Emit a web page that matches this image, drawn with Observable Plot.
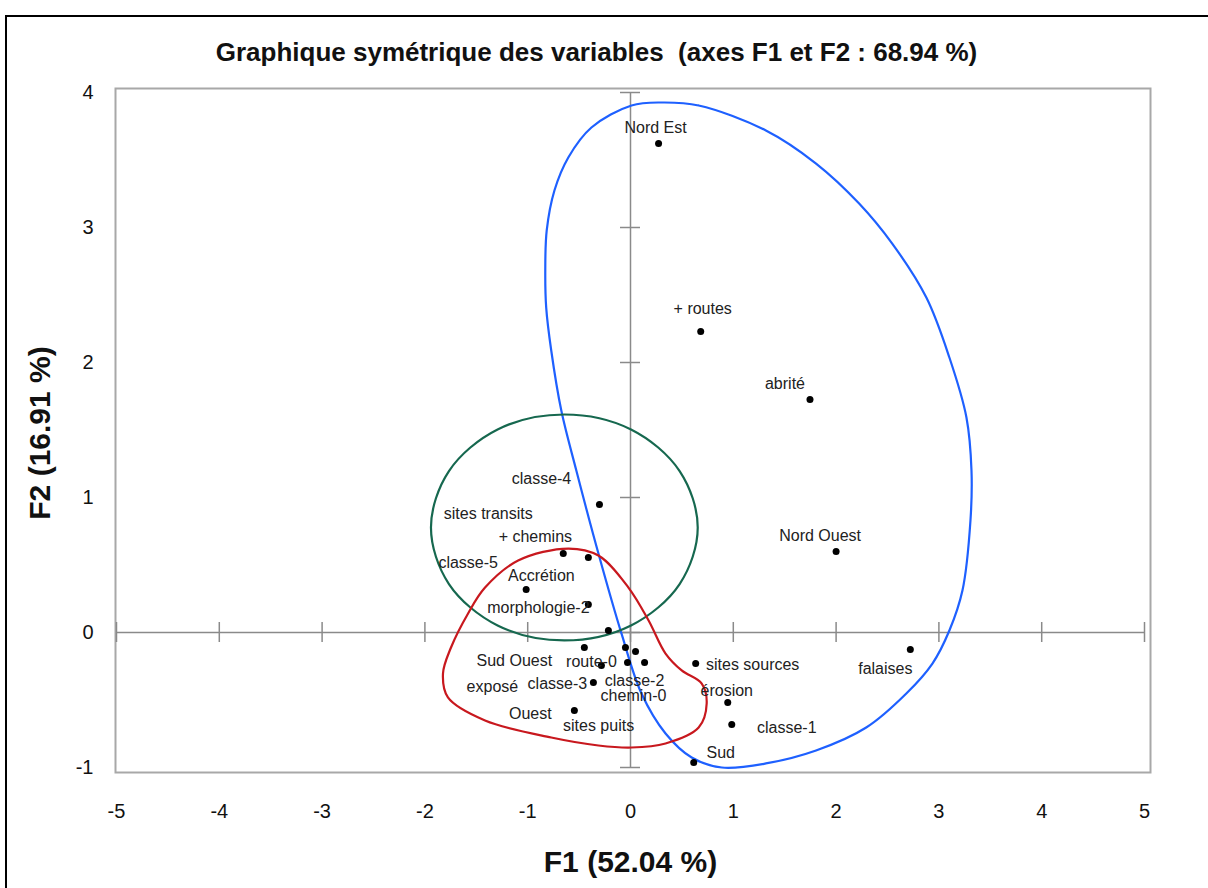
<!DOCTYPE html>
<html><head><meta charset="utf-8">
<script src="https://cdn.jsdelivr.net/npm/d3@7"></script>
<script src="https://cdn.jsdelivr.net/npm/@observablehq/plot@0.6"></script>
<style>
body{margin:0;background:#fff;font-family:"Liberation Sans",Arial,sans-serif;}
#page{position:relative;width:1208px;height:888px;overflow:hidden;background:#fff;}
#border{position:absolute;left:5px;top:15px;width:1300px;height:1000px;border-left:2.5px solid #000;border-top:2.5px solid #000;}
#title{position:absolute;left:0;width:1193px;top:37px;line-height:30px;text-align:center;font-weight:bold;font-size:26px;white-space:pre;color:#111;}
#chart{position:absolute;left:0;top:0;}
</style></head>
<body><div id="page"><div id="border"></div><div id="chart"></div><div id="title"></div></div>
<script>
const titleText = "Graphique symétrique des variables  (axes F1 et F2 : 68.94 %)";
const xTitle = "F1 (52.04 %)";
const yTitle = "F2 (16.91 %)";
const xTicks = [-5, -4, -3, -2, -1, 0, 1, 2, 3, 4, 5];
const yTicks = [-1, 0, 1, 2, 3, 4];

const labels = ["Nord Est", "+ routes", "abrité", "Nord Ouest", "falaises", "classe-4",
  "sites transits", "+ chemins", "classe-5", "Accrétion", "morphologie-2", "Sud Ouest",
  "route-0", "classe-2", "exposé", "chemin-0", "sites puits", "classe-3", "Ouest",
  "sites sources", "érosion", "classe-1", "Sud"];
const f1 = [0.273, 0.683, 1.746, 2.0, 2.722, -0.302,
  -0.654, -0.410, -1.015, -0.410, -0.215, -0.449,
  -0.049, 0.049, -0.283, -0.029, 0.137, -0.361, -0.546,
  0.634, 0.946, 0.985, 0.615];
const f2 = [3.622, 2.230, 1.726, 0.600, -0.126, 0.948,
  0.585, 0.556, 0.319, 0.207, 0.015, -0.111,
  -0.111, -0.141, -0.244, -0.222, -0.222, -0.370, -0.578,
  -0.230, -0.519, -0.681, -0.963];
// label placement offsets (px)
const labelDx = [-3, 2, -25, -16, -25, -58, -75, -53, -58, -47, -70, -70, -34, -1, -109, 6, -46, -36, -44, 57, -1, 55, 27];
const labelDy = [-16, -23, -16, -16, 19, -26, -40, -21, -27, -29, -23, 13, 14, 29, 21, 33, 63, 1, 3, 1, -12, 3, -10];

// outlines
const blueF1 = [0.302, 0.663, 1.317, 1.805, 2.224, 2.546, 2.878, 3.102, 3.268, 3.317, 3.307, 3.229, 3.102, 2.937, 2.683, 2.293, 1.805, 1.317, 0.888, 0.595, 0.341, 0.107, -0.088, -0.312, -0.527, -0.673, -0.771, -0.820, -0.829, -0.815, -0.740, -0.605, -0.380, 0.010];
const blueF2 = [3.926, 3.904, 3.719, 3.474, 3.178, 2.881, 2.481, 2.037, 1.593, 1.200, 0.830, 0.311, 0.015, -0.230, -0.452, -0.704, -0.874, -0.970, -1.000, -0.926, -0.748, -0.452, -0.007, 0.585, 1.200, 1.644, 2.089, 2.407, 2.681, 2.978, 3.274, 3.519, 3.741, 3.904];
const greenF1 = [0.654, 0.478, 0.005, -0.644, -1.293, -1.766, -1.941, -1.766, -1.293, -0.644, 0.005, 0.478];
const greenF2 = [0.778, 1.196, 1.504, 1.615, 1.504, 1.196, 0.778, 0.359, 0.052, -0.059, 0.052, 0.359];
const redF1 = [-0.605, -0.312, -0.020, 0.176, 0.341, 0.498, 0.693, 0.741, 0.663, 0.341, 0.010, -0.312, -0.771, -1.415, -1.776, -1.824, -1.746, -1.580, -1.415, -1.093];
const redF2 = [0.622, 0.570, 0.333, 0.089, -0.156, -0.281, -0.378, -0.526, -0.704, -0.822, -0.852, -0.837, -0.778, -0.652, -0.481, -0.304, -0.111, 0.141, 0.333, 0.533];

document.getElementById("title").textContent = titleText;

const pts = labels.map((label, i) => ({label, f1: f1[i], f2: f2[i], dx: labelDx[i], dy: labelDy[i]}));
const toRows = (a, b) => a.map((v, i) => ({f1: v, f2: b[i]}));
const blue = toRows(blueF1, blueF2);
const green = toRows(greenF1, greenF2);
const red = toRows(redF1, redF2);

const axisColor = "#8a8a8a";
const font = "Liberation Sans, Arial, sans-serif";

const chart = Plot.plot({
  width: 1208,
  height: 888,
  marginLeft: 116,
  marginRight: 64,
  marginTop: 92,
  marginBottom: 121,
  style: {background: "transparent", fontSize: "20px", fontFamily: font, color: "#111", overflow: "visible"},
  x: {domain: [-5, 5], ticks: xTicks, tickFormat: d => String(d)},
  y: {domain: [-1, 4], ticks: yTicks, tickFormat: d => String(d)},
  marks: [
    Plot.frame({stroke: "#a8a8a8", strokeWidth: 2, insetLeft: -1, insetRight: -6, insetTop: -4, insetBottom: -5}),
    Plot.axisX(xTicks, {tickSize: 0, tickPadding: 36, label: null, tickFormat: d => String(d)}),
    Plot.axisY(yTicks, {tickSize: 0, tickPadding: 23, label: null, tickFormat: d => String(d)}),
    Plot.ruleX([0], {y1: -1, y2: 4, stroke: axisColor, strokeWidth: 1.5}),
    Plot.ruleY([0], {x1: -5, x2: 5, stroke: axisColor, strokeWidth: 1.5}),
    Plot.ruleX(xTicks, {x: d => d, y1: 0, y2: 0, insetTop: -10, insetBottom: -10, stroke: axisColor, strokeWidth: 1.5}),
    Plot.ruleY(yTicks, {y: d => d, x1: 0, x2: 0, insetLeft: -10, insetRight: -10, stroke: axisColor, strokeWidth: 1.5}),
    Plot.line(blue, {x: "f1", y: "f2", curve: "catmull-rom-closed", stroke: "#1e60ff", strokeWidth: 2.2}),
    Plot.line(green, {x: "f1", y: "f2", curve: "catmull-rom-closed", stroke: "#16684f", strokeWidth: 2.2}),
    Plot.line(red, {x: "f1", y: "f2", curve: "catmull-rom-closed", stroke: "#c8181e", strokeWidth: 2.2}),
    Plot.dot(pts, {x: "f1", y: "f2", r: 3.5, fill: "#000", stroke: "none"}),
    ...pts.map(p => Plot.text([p], {x: "f1", y: "f2", text: "label", dx: p.dx, dy: p.dy, fontSize: 16, fill: "#222"})),
    Plot.text([xTitle], {frameAnchor: "bottom", textAnchor: "middle", lineAnchor: "middle", dy: 95, fontSize: 30, fontWeight: "bold", fill: "#111"}),
    Plot.text([yTitle], {frameAnchor: "left", textAnchor: "middle", lineAnchor: "middle", dx: -76, dy: 3, rotate: -90, fontSize: 30, fontWeight: "bold", fill: "#111"})
  ]
});
document.getElementById("chart").appendChild(chart);
</script>
</body></html>
